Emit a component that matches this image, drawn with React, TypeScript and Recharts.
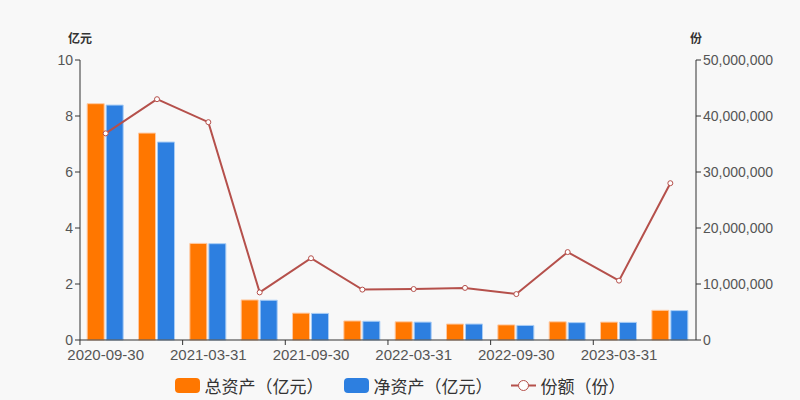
import React from 'react';
import { ComposedChart, Bar, Line, XAxis, YAxis } from 'recharts';

const dates = [
  '2020-09-30', '2020-12-31', '2021-03-31', '2021-06-30', '2021-09-30', '2021-12-31',
  '2022-03-31', '2022-06-30', '2022-09-30', '2022-12-31', '2023-03-31', '2023-06-30',
];
const totalAssets = [8.44, 7.39, 3.45, 1.43, 0.96, 0.68, 0.65, 0.57, 0.54, 0.65, 0.64, 1.06];
const netAssets = [8.39, 7.07, 3.44, 1.42, 0.95, 0.67, 0.64, 0.57, 0.52, 0.62, 0.63, 1.05];
const shares = [36900000, 43000000, 38900000, 8500000, 14600000, 9000000, 9100000, 9300000, 8200000, 15700000, 10600000, 28000000];

const leftTicks = [0, 2, 4, 6, 8, 10];
const rightTicks = [0, 10000000, 20000000, 30000000, 40000000, 50000000];

const data = dates.map((d, i) => ({
  date: d,
  total: totalAssets[i],
  net: netAssets[i],
  shares: shares[i],
}));

const ORANGE = '#ff7700';
const BLUE = '#2d7fe0';
const RED = '#b5504b';
const AXIS = '#333';
const TEXT = '#555';
const FONT = '"Liberation Sans", Arial, sans-serif';
const CJK = '"Noto Sans CJK SC", sans-serif';

const BAND = 617 / 12;

const XTick = (props: any) => {
  const { x, y, payload, index } = props;
  return (
    <g>
      <line x1={x - BAND / 2} y1={y - 8} x2={x - BAND / 2} y2={y - 3} stroke={AXIS} />
      {index === 10 && (
        <line x1={x + BAND * 1.5} y1={y - 8} x2={x + BAND * 1.5} y2={y - 3} stroke={AXIS} />
      )}
      <text x={x} y={y + 12} textAnchor="middle" fill={TEXT} fontSize={15} fontFamily={FONT}>
        {payload.value}
      </text>
    </g>
  );
};

const fmt = (v: number) => v.toLocaleString('en-US');

export default function App() {
  return (
    <div style={{ position: 'relative', width: 800, height: 400, background: '#f8f8f8', overflow: 'hidden' }}>
      <style>{`body{margin:0}`}</style>
      <div style={{ position: 'absolute', left: 68, top: 29, fontSize: 12, fontWeight: 'bold', color: '#333', fontFamily: CJK }}>亿元</div>
      <div style={{ position: 'absolute', left: 690, top: 29, fontSize: 12, fontWeight: 'bold', color: '#333', fontFamily: CJK }}>份</div>
      <ComposedChart
        width={800}
        height={400}
        data={data}
        margin={{ top: 60, right: 0, bottom: 30, left: 0 }}
        barCategoryGap="14%"
        barGap={2}
      >
        <XAxis
          dataKey="date"
          interval={1}
          tickLine={false}
          height={30}
          stroke={AXIS}
          tick={<XTick />}
        />
        <YAxis
          yAxisId="left"
          width={80}
          domain={[0, 10]}
          ticks={leftTicks}
          stroke={AXIS}
          tickSize={5}
          tick={{ fill: TEXT, fontSize: 14, fontFamily: FONT }}
        />
        <YAxis
          yAxisId="right"
          orientation="right"
          width={104}
          domain={[0, 50000000]}
          ticks={rightTicks}
          stroke={AXIS}
          tickSize={5}
          tickFormatter={fmt}
          tick={{ fill: TEXT, fontSize: 14, fontFamily: FONT }}
        />
        <Bar yAxisId="left" dataKey="total" name="总资产（亿元）" fill={ORANGE} stroke="#ffc9a0" strokeWidth={1} isAnimationActive={false} />
        <Bar yAxisId="left" dataKey="net" name="净资产（亿元）" fill={BLUE} stroke="#a9cdf5" strokeWidth={1} isAnimationActive={false} />
        <Line
          yAxisId="right"
          dataKey="shares"
          name="份额（份）"
          stroke={RED}
          strokeWidth={2}
          dot={{ r: 2.5, fill: '#fff', stroke: RED, strokeWidth: 1 }}
          isAnimationActive={false}
        />
      </ComposedChart>
      <div
        style={{
          position: 'absolute',
          top: 373,
          left: 0,
          width: 800,
          display: 'flex',
          justifyContent: 'center',
          alignItems: 'center',
          fontFamily: CJK,
          fontSize: 17,
          color: '#333',
        }}
      >
        <span style={{ display: 'inline-block', width: 25, height: 15, borderRadius: 4, background: ORANGE, marginRight: 5 }} />
        <span style={{ marginRight: 20 }}>总资产（亿元）</span>
        <span style={{ display: 'inline-block', width: 25, height: 15, borderRadius: 4, background: BLUE, marginRight: 5 }} />
        <span style={{ marginRight: 18 }}>净资产（亿元）</span>
        <svg width={25} height={15} style={{ marginRight: 5 }}>
          <line x1={0} y1={7.5} x2={25} y2={7.5} stroke={RED} strokeWidth={2} />
          <circle cx={12.5} cy={7.5} r={5} fill="#fff" stroke={RED} strokeWidth={1} />
        </svg>
        <span>份额（份）</span>
      </div>
    </div>
  );
}
